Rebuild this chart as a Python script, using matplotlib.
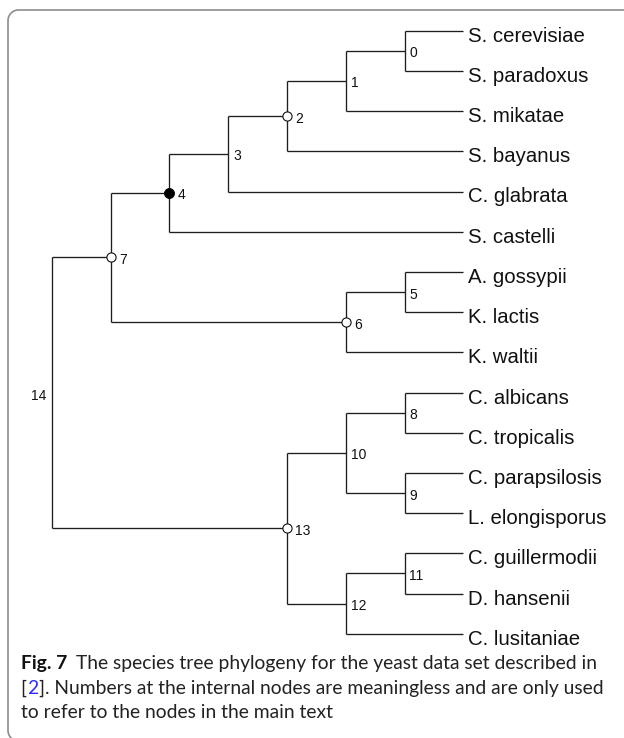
import matplotlib
matplotlib.use("Agg")
from matplotlib import pyplot as plt
import numpy as np

# Tree data: leaves top to bottom, internal nodes by number
leaves = ["S. cerevisiae", "S. paradoxus", "S. mikatae", "S. bayanus",
          "C. glabrata", "S. castelli", "A. gossypii", "K. lactis",
          "K. waltii", "C. albicans", "C. tropicalis", "C. parapsilosis",
          "L. elongisporus", "C. guillermodii", "D. hansenii", "C. lusitaniae"]

node_children = [
    ["S. cerevisiae", "S. paradoxus"],    # 0
    [0, "S. mikatae"],                    # 1
    [1, "S. bayanus"],                    # 2
    [2, "C. glabrata"],                   # 3
    [3, "S. castelli"],                   # 4
    ["A. gossypii", "K. lactis"],         # 5
    [5, "K. waltii"],                     # 6
    [4, 6],                               # 7
    ["C. albicans", "C. tropicalis"],     # 8
    ["C. parapsilosis", "L. elongisporus"],  # 9
    [8, 9],                               # 10
    ["C. guillermodii", "D. hansenii"],   # 11
    [11, "C. lusitaniae"],                # 12
    [10, 12],                             # 13
    [7, 13],                              # 14
]
root = 14
open_nodes = [2, 6, 7, 13]
filled_nodes = [4]

caption_bold = "Fig. 7"
caption_lines = ["The species tree phylogeny for the yeast data set described in",
                 "]. Numbers at the internal nodes are meaningless and are only used",
                 "to refer to the nodes in the main text"]
ref_num = "2"

# layout in pixels
W, H = 624, 738
TIP_PX, ROOT_PX = 463.3, 51.7
TOP_PX, BOT_PX = 30.7, 633.7

# node positions: y from leaf order, x from height (leaves aligned)
height = {}
ypos = {}
for i, name in enumerate(leaves):
    height[name] = 0
    ypos[name] = i

def place(n):
    if n in height:
        return
    for c in node_children[n]:
        place(c)
    height[n] = 1 + max(height[c] for c in node_children[n])
    ys = [ypos[c] for c in node_children[n]]
    ypos[n] = (ys[0] + ys[-1]) / 2.0

place(root)
H_ROOT = height[root]
xpos = {k: H_ROOT - h for k, h in height.items()}

fig = plt.figure(figsize=(W / 100, H / 100), dpi=100)

# background axes in pixel units (frame + caption)
bg = fig.add_axes([0, 0, 1, 1])
bg.set_xlim(0, W)
bg.set_ylim(H, 0)
bg.axis("off")

# open frame: top edge, rounded top-left corner, left edge, start of bottom-left corner
rad = 10.5
fl, ft = 8, 10
t1 = np.linspace(np.pi / 2, np.pi, 20)
t2 = np.linspace(0, np.radians(50), 10)
fx = np.concatenate([[W + 5], fl + rad - rad * np.cos(np.pi - t1),
                     fl + rad - rad * np.cos(t2)])
fy = np.concatenate([[ft], ft + rad - rad * np.sin(t1),
                     730.5 + rad * np.sin(t2)])
bg.plot(fx, fy, color="#8e8e8e", lw=1.2, solid_joinstyle="round")

# tree axes
ax = fig.add_axes([0, 0, 1, 1])
ax.patch.set_visible(False)
sx = (TIP_PX - ROOT_PX) / H_ROOT
sy = (BOT_PX - TOP_PX) / (len(leaves) - 1)
ax.set_xlim(-ROOT_PX / sx, (W - ROOT_PX) / sx)
ax.set_ylim((H - TOP_PX) / sy, -TOP_PX / sy)
ax.axis("off")

lc = "#1e1e1e"
lw = 0.95
for n in range(len(node_children)):
    kids = node_children[n]
    ys = [ypos[c] for c in kids]
    ax.plot([xpos[n], xpos[n]], [min(ys), max(ys)], color=lc, lw=lw, solid_capstyle="butt")
    for c in kids:
        ax.plot([xpos[n], xpos[c]], [ypos[c], ypos[c]], color=lc, lw=lw, solid_capstyle="butt")

for n in open_nodes:
    ax.plot(xpos[n], ypos[n], "o", ms=6.6, mfc="white", mec="#111111", mew=0.8, zorder=5)
for n in filled_nodes:
    ax.plot(xpos[n], ypos[n], "o", ms=7.2, mfc="black", mec="black", mew=0.6, zorder=5)

px = 0.72  # points per pixel
for n in range(len(node_children)):
    if n == root:
        ax.annotate(str(n), (xpos[n], ypos[n]), xytext=(-5 * px, -7.5 * px),
                    textcoords="offset points", ha="right", va="baseline",
                    fontsize=10, family="Liberation Sans", color="#111111")
    else:
        dx = 8.5 if (n in open_nodes or n in filled_nodes) else 5
        ax.annotate(str(n), (xpos[n], ypos[n]), xytext=(dx * px, -6.5 * px),
                    textcoords="offset points", ha="left", va="baseline",
                    fontsize=10, family="Liberation Sans", color="#111111")

for name in leaves:
    ax.annotate(name, (xpos[name], ypos[name]), xytext=(4.8 * px, -11 * px),
                textcoords="offset points", ha="left", va="baseline",
                fontsize=14.7, family="Liberation Sans", color="#111111")

# caption
cap_font = "Lato"
r = fig.canvas.get_renderer()
probe = bg.text(0, 0, "[" + ref_num + caption_lines[1], fontsize=10, family=cap_font)
wprobe = probe.get_window_extent(renderer=r).width
probe.remove()
cap_size = 10 * (604 - 20.7) / wprobe

def draw_line(segs, x, y):
    for s, weight, color, gap in segs:
        t = bg.text(x, y, s, fontsize=cap_size, fontweight=weight, color=color,
                    family=cap_font, ha="left", va="baseline")
        x += t.get_window_extent(renderer=r).width + gap

x0 = 20.7
draw_line([(caption_bold, "bold", "#111111", 9.5),
           (caption_lines[0], "normal", "#222222", 0)], x0, 669)
draw_line([("[", "normal", "#222222", 0.6),
           (ref_num, "normal", "#2a2aff", 0.6),
           (caption_lines[1], "normal", "#222222", 0)], x0, 694)
draw_line([(caption_lines[2], "normal", "#222222", 0)], x0, 718)

fig.savefig("out.png", dpi=100)
